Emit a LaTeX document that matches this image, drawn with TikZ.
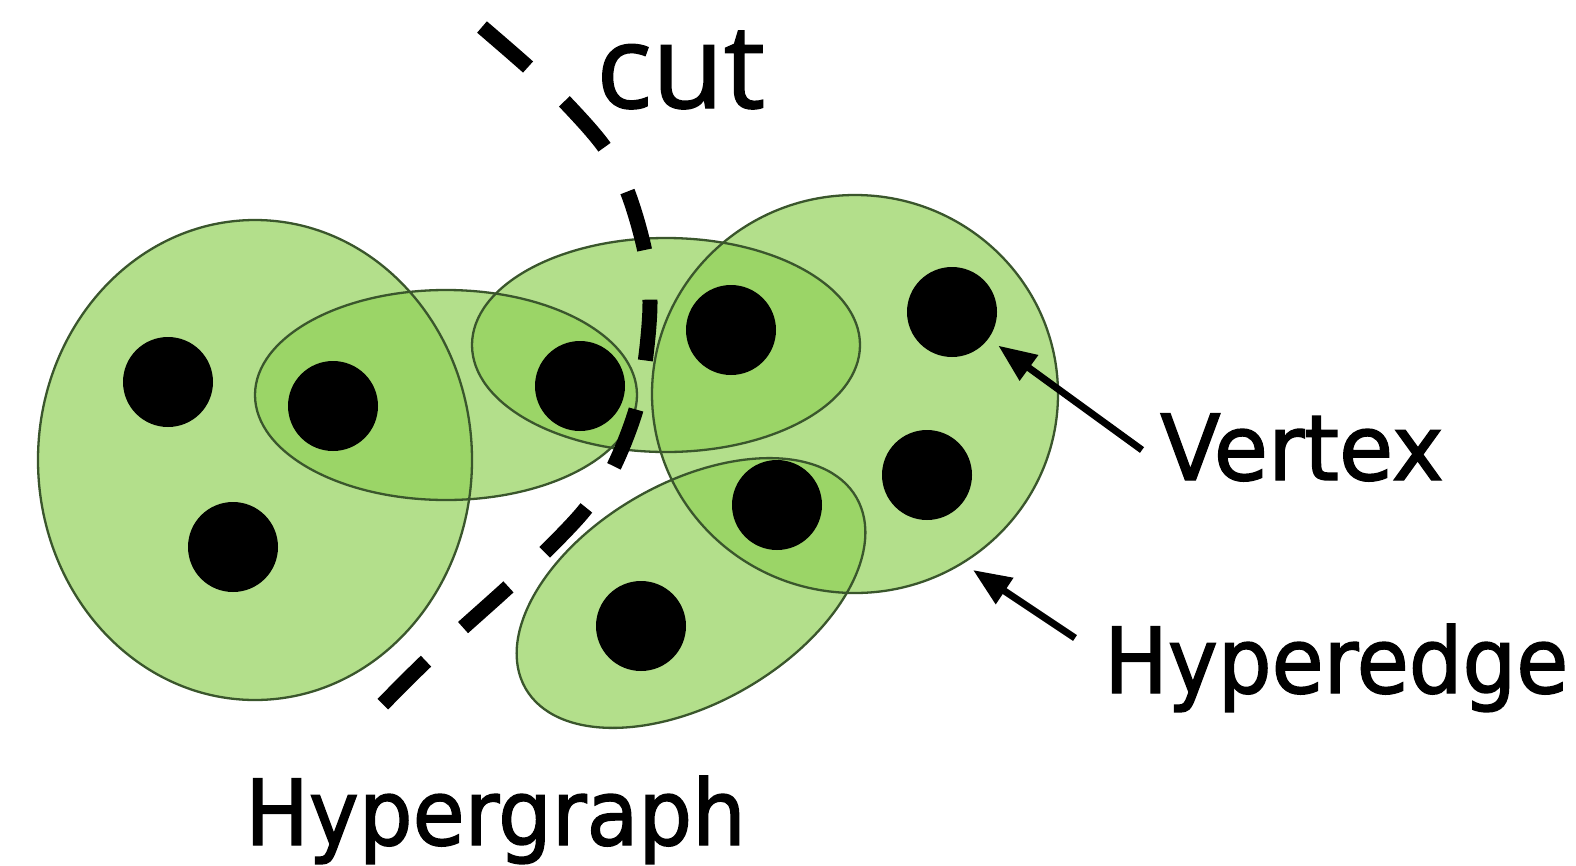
\documentclass[tikz,border=0pt]{standalone}
\usepackage{fontspec}
\newfontfamily\lblfont{DejaVu Sans}[FakeStretch=0.93,FakeBold=1.6]
\newfontfamily\lblfontw{DejaVu Sans}[FakeStretch=0.97,FakeBold=1.6]
\newfontfamily\cutfont{Open Sans}[FakeBold=1.2]
\usetikzlibrary{arrows.meta}
\definecolor{hgreen}{RGB}{145,209,88}
\definecolor{hline}{RGB}{58,86,44}
\tikzset{
  hfill/.style={fill=hgreen, fill opacity=0.69},
  hborder/.style={draw=hline, line width=2.3pt},
  vertex/.style={circle, fill=black, inner sep=0pt, minimum size=90pt},
  cutline/.style={line width=15pt, dash pattern=on 61pt off 50pt, line cap=butt},
  pointer/.style={line width=7pt, -{Triangle[length=38pt,width=30pt]}},
  lbl/.style={anchor=base west, inner sep=0pt, font=\lblfont\fontsize{91}{100}\selectfont},
  lblw/.style={anchor=base west, inner sep=0pt, font=\lblfontw\fontsize{91}{100}\selectfont},
  cutlbl/.style={anchor=base west, inner sep=0pt, font=\cutfont\fontsize{117}{125}\selectfont},
}
\begin{document}
\begin{tikzpicture}[x=1pt,y=-1pt]
\fill[white] (0,0) rectangle (1576,865);
\useasboundingbox (0,0) rectangle (1576,865);
% hyperedges: fills
\foreach \cx/\cy/\rx/\ry/\ang in {255/460/217/240/0, 446/395/191/105/0, 666/345/194/107/0, 855/394/203/199/0, 691/593/191/110/30}{
  \fill[hfill, rotate around={\ang:(\cx,\cy)}] (\cx,\cy) ellipse [x radius=\rx, y radius=\ry];
}
% hyperedges: borders
\foreach \cx/\cy/\rx/\ry/\ang in {255/460/217/240/0, 446/395/191/105/0, 666/345/194/107/0, 855/394/203/199/0, 691/593/191/110/30}{
  \draw[hborder, rotate around={\ang:(\cx,\cy)}] (\cx,\cy) ellipse [x radius=\rx, y radius=\ry];
}
% vertices
\node[vertex] (v1) at (168,382) {};
\node[vertex] (v2) at (333,406) {};
\node[vertex] (v3) at (233,547) {};
\node[vertex] (v4) at (580,386) {};
\node[vertex] (v5) at (731,330) {};
\node[vertex] (v6) at (952,312) {};
\node[vertex] (v7) at (927,475) {};
\node[vertex] (v8) at (777,505) {};
\node[vertex] (v9) at (641,626) {};
% cut
\draw[cutline] plot[smooth, tension=0.55] coordinates {(482,27) (528,67) (565,102) (605,148) (628,193) (645,252) (650,303) (645,363) (635,413) (612,470) (583,512) (540,557) (505,590) (457,633) (422,665) (377,710)};
% labels
\node[cutlbl] (lcut) at (596,108) {cut};
\node[lblw] (lvertex) at (1160,480) {Vertex};
\node[lbl] (lhyperedge) at (1104,693) {Hyperedge};
\node[lbl] (lhypergraph) at (245,845) {Hypergraph};
% pointers
\coordinate (vtail) at (1142,450);
\coordinate (htail) at (1075,638);
\coordinate (htip) at (973,570);
\draw[pointer, shorten >=12pt] (vtail) -- (v6);
\draw[pointer] (htail) -- (htip);
\end{tikzpicture}
\end{document}
